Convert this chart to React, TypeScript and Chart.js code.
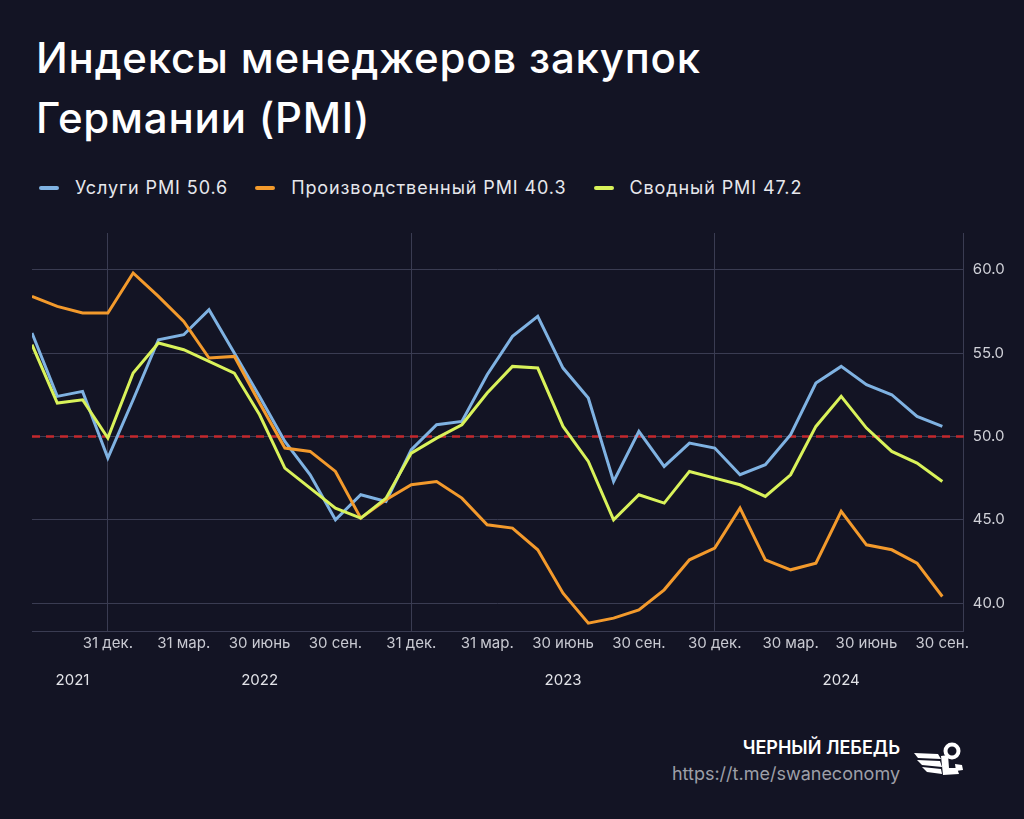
import React, { useEffect, useRef } from "react";
import { Chart, registerables } from "chart.js";

Chart.register(...registerables);

// ---- data ----
const months = [
  "2021-09", "2021-10", "2021-11", "2021-12",
  "2022-01", "2022-02", "2022-03", "2022-04", "2022-05", "2022-06",
  "2022-07", "2022-08", "2022-09", "2022-10", "2022-11", "2022-12",
  "2023-01", "2023-02", "2023-03", "2023-04", "2023-05", "2023-06",
  "2023-07", "2023-08", "2023-09", "2023-10", "2023-11", "2023-12",
  "2024-01", "2024-02", "2024-03", "2024-04", "2024-05", "2024-06",
  "2024-07", "2024-08", "2024-09",
];

const servicesPMI = [
  56.2, 52.4, 52.7, 48.7,
  52.2, 55.8, 56.1, 57.6, 55.0, 52.4, 49.7, 47.7, 45.0, 46.5, 46.1, 49.2,
  50.7, 50.9, 53.7, 56.0, 57.2, 54.1, 52.3, 47.3, 50.3, 48.2, 49.6, 49.3,
  47.7, 48.3, 50.1, 53.2, 54.2, 53.1, 52.5, 51.2, 50.6,
];

const manufacturingPMI = [
  58.4, 57.8, 57.4, 57.4,
  59.8, 58.4, 56.9, 54.7, 54.8, 52.0, 49.3, 49.1, 47.9, 45.1, 46.2, 47.1,
  47.3, 46.3, 44.7, 44.5, 43.2, 40.6, 38.8, 39.1, 39.6, 40.8, 42.6, 43.3,
  45.7, 42.6, 42.0, 42.4, 45.5, 43.5, 43.2, 42.4, 40.4,
];

const compositePMI = [
  55.5, 52.0, 52.2, 49.9,
  53.8, 55.6, 55.2, 54.5, 53.8, 51.3, 48.1, 46.9, 45.7, 45.1, 46.3, 49.0,
  49.9, 50.7, 52.6, 54.2, 54.1, 50.6, 48.5, 45.0, 46.5, 46.0, 47.9, 47.5,
  47.1, 46.4, 47.7, 50.6, 52.4, 50.5, 49.1, 48.4, 47.3,
];

const seriesNames = ["Услуги PMI 50.6", "Производственный PMI 40.3", "Сводный PMI 47.2"];
const seriesColors = ["#7fb2e2", "#f39a2c", "#d9f25a"];

const quarterTickIdx = [3, 6, 9, 12, 15, 18, 21, 24, 27, 30, 33, 36];
const quarterTickLabels = [
  "31 дек.", "31 мар.", "30 июнь", "30 сен.",
  "31 дек.", "31 мар.", "30 июнь", "30 сен.",
  "30 дек.", "30 мар.", "30 июнь", "30 сен.",
];
const yearEndIdx = [3, 15, 27];

const yearLabels = ["2021", "2022", "2023", "2024"];
const yearLabelPos = [1.6, 9, 21, 32];

const yTicks = [40, 45, 50, 55, 60];
const yMin = 38.33;
const yMax = 62.2;
const xMin = 0;
const xMax = 36.85;
const threshold = 50;

const BG = "#131424";
const GRID = "#3a3c52";
const FONT = "Inter, 'Noto Sans', sans-serif";

const thresholdPlugin = {
  id: "thresholdLine",
  beforeDatasetsDraw(chart: any) {
    const { ctx, chartArea, scales } = chart;
    const y = scales.y.getPixelForValue(threshold);
    ctx.save();
    ctx.strokeStyle = "#c4282d";
    ctx.lineWidth = 2.5;
    ctx.setLineDash([8, 6]);
    ctx.beginPath();
    ctx.moveTo(chartArea.left, y);
    ctx.lineTo(chartArea.right, y);
    ctx.stroke();
    ctx.restore();
  },
};

function toPoints(values: number[]) {
  return values.map((v, i) => ({ x: i, y: v }));
}

export default function App() {
  const canvasRef = useRef<HTMLCanvasElement | null>(null);

  useEffect(() => {
    document.body.style.margin = "0";
    const canvas = canvasRef.current;
    if (!canvas) return;
    const all = [servicesPMI, manufacturingPMI, compositePMI];
    const orders = [2, 1, 0];
    const chart = new Chart(canvas, {
      type: "line",
      data: {
        labels: months,
        datasets: all.map((vals, i) => ({
          label: seriesNames[i],
          data: toPoints(vals),
          borderColor: seriesColors[i],
          backgroundColor: seriesColors[i],
          borderWidth: 3,
          pointRadius: 0,
          tension: 0,
          fill: false,
          order: orders[i],
          xAxisID: "x",
        })),
      },
      options: {
        animation: false,
        responsive: true,
        maintainAspectRatio: false,
        layout: { padding: { left: 32, right: 10, top: 6, bottom: 10 } },
        plugins: {
          legend: { display: false },
          tooltip: { enabled: false },
        },
        scales: {
          x: {
            type: "linear",
            position: "bottom",
            min: xMin,
            max: xMax,
            afterBuildTicks: (scale: any) => {
              scale.ticks = quarterTickIdx.map((v) => ({ value: v }));
            },
            ticks: {
              autoSkip: false,
              maxRotation: 0,
              padding: 3,
              color: "#c9cad2",
              font: { family: FONT, size: 15 },
              callback: (_v: any, i: number) => quarterTickLabels[i],
            },
            grid: {
              drawTicks: false,
              color: (ctx: any) =>
                ctx.tick && yearEndIdx.includes(ctx.tick.value) ? GRID : "rgba(0,0,0,0)",
            },
            border: { display: true, color: GRID },
          },
          x2: {
            type: "linear",
            position: "bottom",
            min: xMin,
            max: xMax,
            afterBuildTicks: (scale: any) => {
              scale.ticks = yearLabelPos.map((v) => ({ value: v }));
            },
            ticks: {
              autoSkip: false,
              maxRotation: 0,
              padding: 16,
              color: "#e2e3e8",
              font: { family: FONT, size: 15 },
              callback: (_v: any, i: number) => yearLabels[i],
            },
            grid: { display: false, drawTicks: false },
            border: { display: false },
          },
          y: {
            type: "linear",
            position: "right",
            min: yMin,
            max: yMax,
            afterBuildTicks: (scale: any) => {
              scale.ticks = yTicks.map((v) => ({ value: v }));
            },
            ticks: {
              padding: 9,
              color: "#d0d1d8",
              font: { family: FONT, size: 15 },
              callback: (v: any) => Number(v).toFixed(1),
            },
            grid: { drawTicks: false, color: GRID },
            border: { display: true, color: GRID },
          },
        },
      },
      plugins: [thresholdPlugin],
    } as any);
    return () => chart.destroy();
  }, []);

  return (
    <div
      style={{
        position: "absolute",
        left: 0,
        top: 0,
        width: 1024,
        height: 819,
        background: BG,
        overflow: "hidden",
        fontFamily: FONT,
      }}
    >
      <div
        style={{
          position: "absolute",
          left: 36,
          top: 28,
          color: "#ffffff",
          fontSize: 42,
          lineHeight: "60px",
          fontWeight: 500,
          letterSpacing: "0.8px",
        }}
      >
        Индексы менеджеров закупок
        <br />
        Германии (PMI)
      </div>

      <div
        style={{
          position: "absolute",
          left: 39,
          top: 176,
          display: "flex",
          alignItems: "center",
          color: "#e6e7ec",
          fontSize: 18,
          lineHeight: "24px",
          letterSpacing: "0.9px",
        }}
      >
        {seriesNames.map((name, i) => (
          <div key={name} style={{ display: "flex", alignItems: "center", marginRight: 27 }}>
            <span
              style={{
                display: "inline-block",
                width: 20,
                height: 4,
                borderRadius: 2,
                background: seriesColors[i],
                marginRight: 16,
              }}
            />
            <span>{name}</span>
          </div>
        ))}
      </div>

      <div style={{ position: "absolute", left: 0, top: 215, width: 1024, height: 500 }}>
        <canvas ref={canvasRef} />
      </div>

      <div
        style={{
          position: "absolute",
          right: 124,
          top: 735,
          textAlign: "right",
        }}
      >
        <div style={{ color: "#ffffff", fontWeight: 600, fontSize: 18, lineHeight: "26px" }}>
          ЧЕРНЫЙ ЛЕБЕДЬ
        </div>
        <div style={{ color: "#9d9fa8", fontSize: 18, lineHeight: "26px" }}>
          https://t.me/swaneconomy
        </div>
      </div>

      <svg
        style={{ position: "absolute", left: 905, top: 738 }}
        width="70"
        height="50"
        viewBox="0 0 70 50"
      >
        <g fill="#ffffff">
          <path d="M9 15 L33 16 L36 21 L13 20 Z" />
          <path d="M12 22 L35 23 L37 29 L17 27 Z" />
          <path d="M17 29 L36 31 L37 36 L22 34 Z" />
          <path d="M36 18 L43 17 L44 30 L52 30 L54 36 L38 37 Z" />
          <path d="M50 26 L57 27 L58 32 L51 33 Z" />
        </g>
        <circle cx="47" cy="13" r="6.5" fill="none" stroke="#ffffff" strokeWidth="4" />
      </svg>
    </div>
  );
}
